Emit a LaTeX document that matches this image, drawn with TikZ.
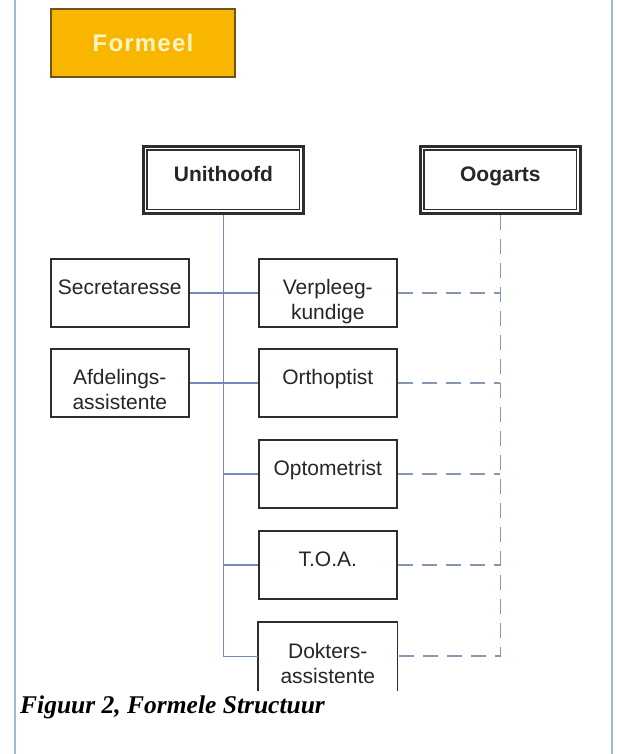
\documentclass[tikz,border=0pt]{standalone}
\usepackage{fontspec}
\setmainfont{Liberation Sans}
\newfontfamily\capfont{Liberation Serif}
\usetikzlibrary{calc}

\definecolor{framecol}{HTML}{A3B8CF}
\definecolor{tabfill}{HTML}{F9B600}
\definecolor{tabedge}{HTML}{6E5418}
\definecolor{tabtext}{HTML}{FFF4C4}
\definecolor{solidcol}{HTML}{7487BF}
\definecolor{dashcol}{HTML}{8496B4}
\definecolor{boxedge}{HTML}{2E2E2E}
\definecolor{ink}{HTML}{262626}

\begin{document}
\begin{tikzpicture}[x=1pt,y=-1pt,
  unitbox/.style={draw=boxedge, line width=1.6pt, fill=white,
    minimum width=138pt, minimum height=68pt, inner sep=0pt, anchor=north west},
  headbox/.style={draw=boxedge, line width=2.8pt, fill=white,
    minimum width=160pt, minimum height=67pt, inner sep=0pt, anchor=north west},
  innerframe/.style={draw=boxedge, line width=1.1pt},
  boxtext/.style={font=\fontsize{21}{25}\selectfont, text=ink, align=center,
    anchor=north, inner sep=0pt},
  headtext/.style={boxtext, font=\fontsize{21}{25}\selectfont\bfseries},
  link/.style={draw=solidcol, line width=1.6pt},
  dlink/.style={draw=dashcol, line width=1.7pt, dash pattern=on 15pt off 9pt},
  sideline/.style={draw=framecol, line width=1.6pt}
]
\useasboundingbox (0,0) rectangle (617,754);

% page margins
\draw[sideline] (15,0) -- (15,754);
\draw[sideline] (612,0) -- (612,754);

% tab
\node[draw=tabedge, fill=tabfill, line width=2pt, minimum width=184pt,
  minimum height=68pt, inner sep=0pt, anchor=north west,
  text=tabtext, font=\fontsize{24}{26}\selectfont\bfseries\addfontfeature{LetterSpace=5}]
  (tab) at (50,8) {Formeel};

% heads
\node[headbox] (uni) at (142,145) {};
\node[headbox] (oog) at (419,145) {};
\draw[innerframe] ($(uni.north west)+(5,5)$) rectangle ($(uni.south east)+(-5,-5)$);
\draw[innerframe] ($(oog.north west)+(5,5)$) rectangle ($(oog.south east)+(-5,-5)$);
\node[headtext] (unit) at ($(uni.north)+(0,19)$) {\strut Unithoofd};
\node[headtext] (oogt) at ($(oog.north)+(0,19)$) {\strut Oogarts};

% staff boxes
\node[unitbox] (sec) at (50,258) {};
\node[unitbox] (ver) at (258,258) {};
\node[unitbox] (afd) at (50,348) {};
\node[unitbox] (ort) at (258,348) {};
\node[unitbox] (opt) at (258,439) {};
\node[unitbox] (toa) at (258,530) {};
\node[unitbox, draw=none, minimum height=67pt] (dok) at (258,622) {};
\draw[draw=boxedge, line width=1.6pt] (dok.south west) -- (dok.north west)
  -- (dok.north east) -- (dok.south east);

\node[boxtext] (sect) at ($(sec.north)+(0,19)$) {\strut Secretaresse};
\node[boxtext] (vert) at ($(ver.north)+(0,19)$) {\strut Verpleeg-\\kundige};
\node[boxtext] (afdt) at ($(afd.north)+(0,19)$) {\strut Afdelings-\\assistente};
\node[boxtext] (ortt) at ($(ort.north)+(0,19)$) {\strut Orthoptist};
\node[boxtext] (optt) at ($(opt.north)+(0,19)$) {\strut Optometrist};
\node[boxtext] (toat) at ($(toa.north)+(0,19)$) {\strut T.O.A.};
\node[boxtext] (dokt) at ($(dok.north)+(0,19)$) {\strut Dokters-\\assistente};

% line relations
\draw[link] (uni.south) |- (dok.west);
\draw[link] (sec.east) -- (ver.west);
\draw[link] (afd.east) -- (ort.west);
\draw[link] (uni.south |- opt.west) -- (opt.west);
\draw[link] (uni.south |- toa.west) -- (toa.west);

% medical relations
\draw[dlink] (oog.south) |- (dok.east);
\draw[dlink] (ver.east) -- (oog.south |- ver.east);
\draw[dlink] (ort.east) -- (oog.south |- ort.east);
\draw[dlink] (opt.east) -- (oog.south |- opt.east);
\draw[dlink] (toa.east) -- (oog.south |- toa.east);

% caption
\node[anchor=base west, inner sep=0pt, text=black,
  font=\capfont\fontsize{25.5}{28}\selectfont\bfseries\itshape]
  (cap) at (20,713) {Figuur 2, Formele Structuur};
\end{tikzpicture}
\end{document}
